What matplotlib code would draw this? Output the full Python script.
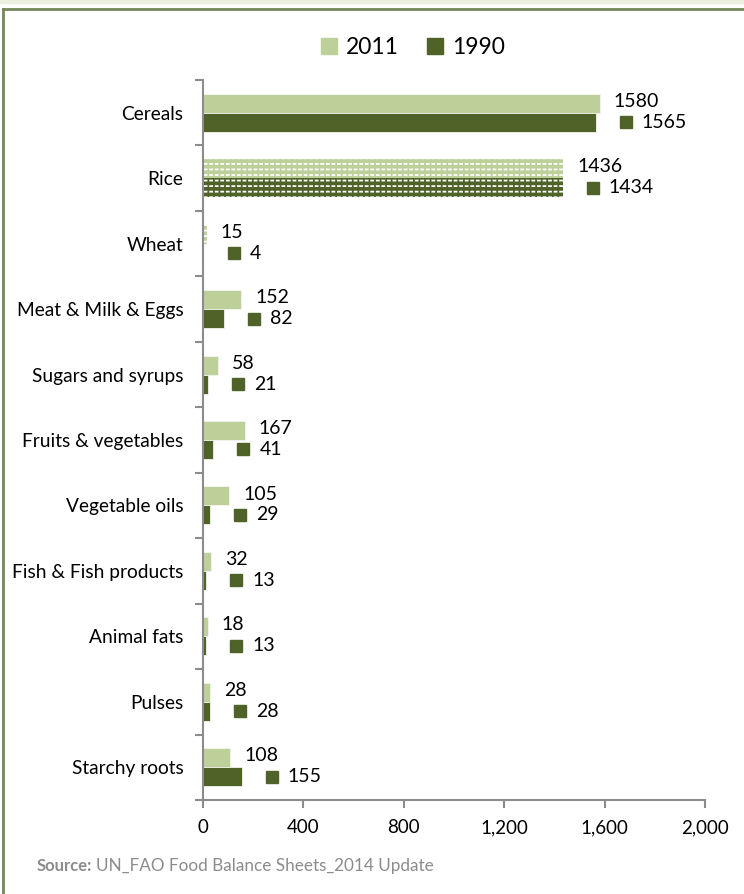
import numpy as np
import matplotlib
matplotlib.use('Agg')
import matplotlib.pyplot as plt
import matplotlib.transforms as mtrans
from matplotlib.patches import Rectangle
from matplotlib.lines import Line2D

categories = ['Cereals', 'Rice', 'Wheat', 'Meat & Milk & Eggs', 'Sugars and syrups',
              'Fruits & vegetables', 'Vegetable oils', 'Fish & Fish products',
              'Animal fats', 'Pulses', 'Starchy roots']
v2011 = [1580, 1436, 15, 152, 58, 167, 105, 32, 18, 28, 108]
v1990 = [1565, 1434, 4, 82, 21, 41, 29, 13, 13, 28, 155]
hatched = ['Rice', 'Wheat']
xticks = [0, 400, 800, 1200, 1600, 2000]

light = '#BDD09A'
dark = '#4F6228'
gray = '#8C8C8C'

plt.rcParams['font.family'] = ['Lato', 'DejaVu Sans']
plt.rcParams['hatch.linewidth'] = 1.3

fig = plt.figure(figsize=(7.44, 8.94), dpi=100)
ax = fig.add_axes([203/744, 1-800/894, 502/744, 720/894])

y = np.arange(len(categories))
h = 0.29
for i, c in enumerate(categories):
    for val, col, off in [(v2011[i], light, -h/2), (v1990[i], dark, h/2)]:
        if c in hatched:
            # dashed white pattern: white stripes cut by bar-coloured verticals
            ax.barh(y[i]+off, val, height=h, facecolor=col, lw=0)
            ax.barh(y[i]+off, val, height=h, facecolor='none', edgecolor='white',
                    lw=0.01, hatch='---')
            ax.barh(y[i]+off, val, height=h, facecolor='none', edgecolor=col,
                    lw=0.01, hatch='|||')
        else:
            ax.barh(y[i]+off, val, height=h, color=col, edgecolor='#f4f4ee', lw=0.6)

# value labels
t1 = mtrans.offset_copy(ax.transData, fig=fig, x=14, y=0, units='dots')
t2 = mtrans.offset_copy(ax.transData, fig=fig, x=30, y=0, units='dots')
t3 = mtrans.offset_copy(ax.transData, fig=fig, x=46, y=0, units='dots')
for i in range(len(categories)):
    ax.text(v2011[i], y[i]-h/2-0.03, str(v2011[i]), transform=t1, ha='left', va='center',
            fontsize=14, color='black')
    ax.plot([v1990[i]], [y[i]+h/2], marker='s', ms=8.6, color=dark, transform=t2,
            clip_on=False)
    ax.text(v1990[i], y[i]+h/2, str(v1990[i]), transform=t3, ha='left', va='center',
            fontsize=14, color='black')

ax.set_xlim(0, 2000)
ax.set_ylim(len(categories)-0.5, -0.5)
ax.set_xticks(xticks)
ax.set_xticklabels([f'{t:,}' for t in xticks], fontsize=13.5)
ax.set_yticks(np.arange(len(categories)+1)-0.5)
ax.set_yticklabels([])
ax.set_yticks(y, minor=True)
ax.set_yticklabels(categories, minor=True, fontsize=13.8)
ax.tick_params(axis='y', which='minor', length=0, pad=14)
ax.tick_params(axis='y', which='major', length=6, width=1.5, color=gray)
ax.tick_params(axis='x', length=6, width=1.5, color=gray, pad=8)
for s in ['top', 'right']:
    ax.spines[s].set_visible(False)
for s in ['left', 'bottom']:
    ax.spines[s].set_color(gray)
    ax.spines[s].set_linewidth(1.5)

handles = [Rectangle((0, 0), 1, 1, color=light), Rectangle((0, 0), 1, 1, color=dark)]
fig.legend(handles, ['2011', '1990'], loc='center', bbox_to_anchor=(0.555, 0.947),
           ncol=2, frameon=False, fontsize=16.5, handlelength=0.7, handleheight=0.7,
           handletextpad=0.4, columnspacing=1.2)

# frame decoration
fig.patches.append(Rectangle((0, 1-3/894), 1, 3/894, transform=fig.transFigure,
                             color='#EBF1DE', zorder=0))
fig.lines.append(Line2D([3/744, 1], [1-9/894, 1-9/894], transform=fig.transFigure,
                        color='#76885A', lw=2))
fig.lines.append(Line2D([3/744, 3/744], [0, 1-9/894], transform=fig.transFigure,
                        color='#76885A', lw=2))

fig.text(37/744, 1-866/894, 'Source:', fontsize=12, color=gray,
         fontweight='bold', va='center')
fig.text(96/744, 1-866/894, 'UN_FAO Food Balance Sheets_2014 Update', fontsize=12.3,
         color=gray, va='center', ha='left')

fig.savefig('out.png', dpi=100)
